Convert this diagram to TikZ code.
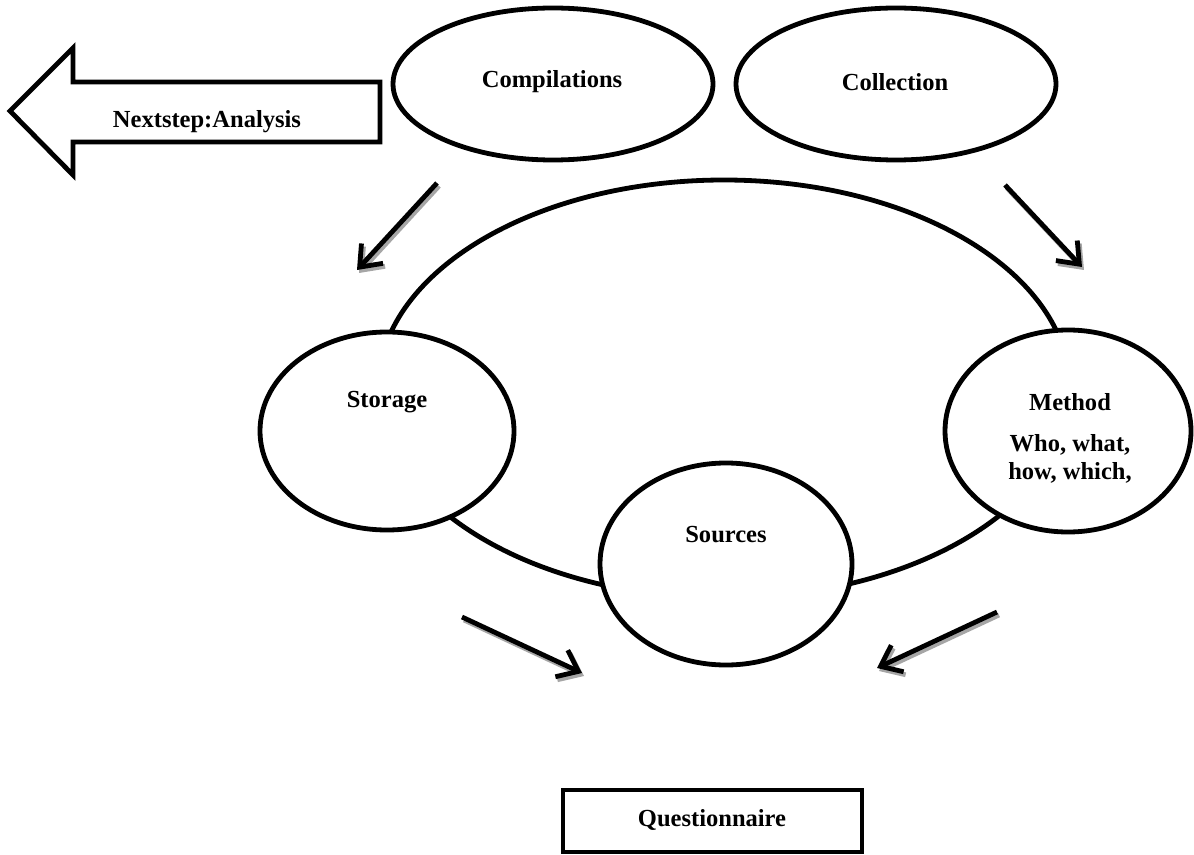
\documentclass[tikz,border=0pt]{standalone}
\usepackage{fontspec}
\setmainfont{Liberation Serif}
\usetikzlibrary{shapes.geometric,arrows.meta}

\tikzset{
  outline/.style={draw=black, line width=3.6pt, fill=white, inner sep=0pt},
  oval/.style={outline, ellipse},
  label text/.style={font=\fontsize{18.4}{21}\selectfont\bfseries, inner sep=0pt, align=center},
  flow/.style={line width=3.6pt, -{Straight Barb[length=14pt, width=22pt]}},
  flow shadow/.style={flow, draw=black!35},
}

\begin{document}
\begin{tikzpicture}[x=0.75pt, y=-0.75pt]
  \useasboundingbox (0,0) rectangle (1194,855);

  % outer cycle ring, drawn first so the stage ovals sit on top of it
  \node[draw=black, line width=3.6pt, ellipse, inner sep=0pt,
        minimum width=519pt, minimum height=313.5pt] (ring) at (724,389) {};

  % top ovals
  \node[oval, minimum width=240pt, minimum height=114pt] (compil) at (553,84) {};
  \node[label text] (compilT) at (552,82) {Compilations};
  \node[oval, minimum width=240pt, minimum height=114pt] (collect) at (896,84) {};
  \node[label text] (collectT) at (895,82) {Collection};

  % stages on the ring
  \node[oval, minimum width=190.5pt, minimum height=148.5pt] (storage) at (387,431) {};
  \node[label text] (storageT) at (387,402) {Storage};

  \node[oval, minimum width=184.5pt, minimum height=151.5pt] (method) at (1068,431) {};
  \node[label text] (methodT) at (1070,402) {Method};
  \node[label text] (methodQ) at (1070,459) {Who, what,\\how, which,};

  \node[oval, minimum width=189pt, minimum height=151.5pt] (sources) at (726,564) {};
  \node[label text] (sourcesT) at (726,535) {Sources};

  % result box
  \node[outline, rectangle, minimum width=224.25pt, minimum height=46.5pt] (quest) at (712.5,821) {};
  \node[label text] (questT) at (712,820) {Questionnaire};

  % left-pointing block arrow
  \draw[outline, line join=miter]
    (10,111) -- (73,48) -- (73,82) -- (380,82) -- (380,142) -- (73,142) -- (73,175) -- cycle;
  \node[label text] (nextT) at (207,122) {Nextstep:Analysis};

  % small flow arrows with drop shadows
  \coordinate (a1s) at (437,183); \coordinate (a1e) at (357,270);
  \coordinate (a2s) at (1005,185); \coordinate (a2e) at (1082,267);
  \coordinate (a3s) at (462,617); \coordinate (a3e) at (582,673);
  \coordinate (a4s) at (997,612); \coordinate (a4e) at (877,668);
  \foreach \n in {1,2,3,4} {
    \draw[flow shadow] ([shift={(2,3)}]a\n s) -- ([shift={(2,3)}]a\n e);
    \draw[flow] (a\n s) -- (a\n e);
  }
\end{tikzpicture}
\end{document}
